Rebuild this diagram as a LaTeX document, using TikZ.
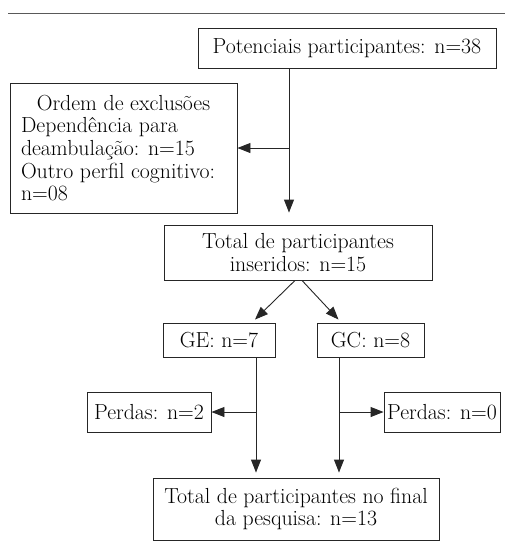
\documentclass[tikz,border=0pt]{standalone}
\usepackage{tikz}
\usetikzlibrary{arrows.meta,positioning}
\tikzset{
  caixa/.style={draw=black!85, line width=0.9pt, inner sep=0pt, align=center},
  seta/.style={draw=black!85, line width=0.9pt, -{Triangle[length=13pt,width=10pt]}},
}

\begin{document}
\begin{tikzpicture}[x=1pt, y=-1pt, font=\fontsize{21.8}{22.6}\selectfont]
\useasboundingbox (0,0) rectangle (505,550);
% linha superior
\draw[black!65, line width=1pt] (8,13) -- (505,13);

% caixas
\node[caixa, minimum width=298pt, minimum height=40pt] (pot) at (347,48) {Potenciais participantes: n=38};
\node[caixa, minimum width=227pt, minimum height=130pt, text width=205pt, align=none] (excl) at (123.5,148)
  {{\centering Ordem de exclusões\par}\raggedright Dependência para\\ deambulação: n=15\\ Outro perfil cognitivo:\\ n=08};
\node[caixa, minimum width=268pt, minimum height=55pt] (tot) at (298,252.5) {Total de participantes\\ inseridos: n=15};
\node[caixa, minimum width=112pt, minimum height=34pt] (ge) at (219,340) {GE: n=7};
\node[caixa, minimum width=107pt, minimum height=34pt] (gc) at (370.5,340) {GC: n=8};
\node[caixa, minimum width=124pt, minimum height=40pt] (pl) at (149,412) {Perdas: n=2};
\node[caixa, minimum width=116pt, minimum height=40pt] (pr) at (442,412) {Perdas: n=0};
\node[caixa, minimum width=286pt, minimum height=62pt] (fin) at (296,509) {Total de participantes no final\\ da pesquisa: n=13};

% pontos de derivação
\coordinate (exj) at (289,148);
\coordinate (gel) at (256,412);
\coordinate (gcl) at (339,412);

% setas
\draw[seta, shorten >=12pt] (pot.south -| exj) -- (tot.north -| exj);
\draw[seta] (exj) -- (excl.east);
\draw[seta] ([xshift=-3pt]tot.south) -- ([xshift=36pt,yshift=3pt]ge.north);
\draw[seta] ([xshift=4pt]tot.south) -- ([xshift=-32pt,yshift=3pt]gc.north);
\draw[seta, shorten >=5pt] (ge.south -| gel) -- (fin.north -| gel);
\draw[seta, shorten >=5pt] (gc.south -| gcl) -- (fin.north -| gcl);
\draw[seta] (gel) -- (pl.east);
\draw[seta] (gcl) -- (pr.west);
\end{tikzpicture}
\end{document}
